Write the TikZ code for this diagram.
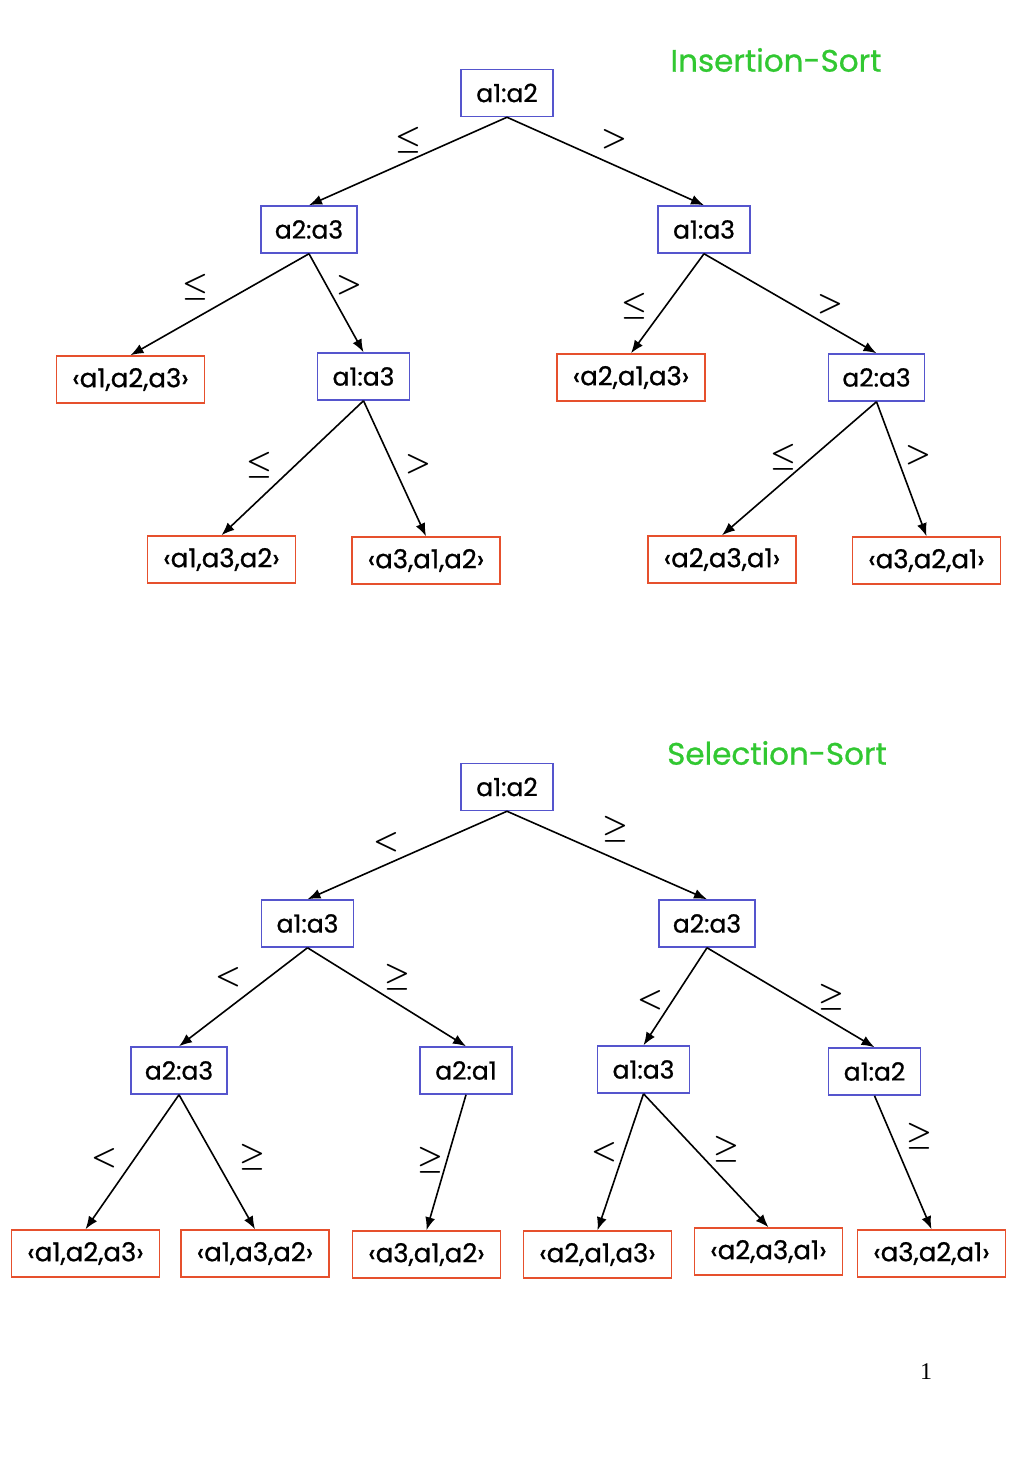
\RequirePackage{fix-cm}
\documentclass[tikz,border=0pt]{standalone}
\usepackage{fontspec}
\setmainfont{Poppins}[FakeBold=0.8]
\newfontfamily\serifnum{Liberation Serif}
\usetikzlibrary{arrows.meta}
\definecolor{boxblue}{RGB}{85,85,205}
\definecolor{boxred}{RGB}{230,80,45}
\definecolor{titlegreen}{RGB}{50,200,50}
\tikzset{
  inner/.style={draw=boxblue,line width=1.5pt,minimum height=47pt,inner xsep=6pt,font=\fontsize{25}{28}\selectfont},
  leaf/.style={draw=boxred,line width=1.5pt,minimum height=47pt,minimum width=148pt,inner xsep=4pt,font=\fontsize{26}{28}\selectfont},
  edge/.style={line width=1.6pt,-{Latex[length=13pt,width=10pt]}},
  rel/.style={font=\fontsize{29}{34}\selectfont\boldmath},
  ttl/.style={text=titlegreen,font=\fontsize{31}{34}\selectfont},
}
\begin{document}
\begin{tikzpicture}[x=1pt,y=-1pt]
\useasboundingbox (0,0) rectangle (1024,1479);
% ---------- Insertion sort ----------
\node[ttl] (t1) at (776,60) {Insertion-Sort};
\node[inner,minimum width=92pt] (i1) at (507,93) {a1:a2};
\node[inner,minimum width=96pt] (i2) at (309,229.5) {a2:a3};
\node[inner,minimum width=92pt] (i3) at (704,229.5) {a1:a3};
\node[leaf] (i4) at (130.5,379.5) {‹a1,a2,a3›};
\node[inner,minimum width=92pt] (i5) at (363.5,376.5) {a1:a3};
\node[leaf] (i6) at (631,377.5) {‹a2,a1,a3›};
\node[inner,minimum width=96pt] (i7) at (876.5,377.5) {a2:a3};
\node[leaf] (i8) at (221.5,559.5) {‹a1,a3,a2›};
\node[leaf] (i9) at (426,560.5) {‹a3,a1,a2›};
\node[leaf] (i10) at (722,559.5) {‹a2,a3,a1›};
\node[leaf] (i11) at (926.5,560.5) {‹a3,a2,a1›};
\draw[edge] (i1.south) -- (i2.north);
\draw[edge] (i1.south) -- (i3.north);
\draw[edge] (i2.south) -- (i4.north);
\draw[edge] (i2.south) -- (i5.north);
\draw[edge] (i3.south) -- (i6.north);
\draw[edge] (i3.south) -- (i7.north);
\draw[edge] (i5.south) -- (i8.north);
\draw[edge] (i5.south) -- (i9.north);
\draw[edge] (i7.south) -- (i10.north);
\draw[edge] (i7.south) -- (i11.north);
\node[rel] (r1) at (408,140) {$\leq$};
\node[rel] (r2) at (614,139) {$>$};
\node[rel] (r3) at (195,287) {$\leq$};
\node[rel] (r4) at (349,285) {$>$};
\node[rel] (r5) at (634,306) {$\leq$};
\node[rel] (r6) at (830,304) {$>$};
\node[rel] (r7) at (259,465) {$\leq$};
\node[rel] (r8) at (418,464) {$>$};
\node[rel] (r9) at (783,457) {$\leq$};
\node[rel] (r10) at (918,455) {$>$};
% ---------- Selection sort ----------
\node[ttl] (t2) at (777,753) {Selection-Sort};
\node[inner,minimum width=92pt] (s1) at (507,787) {a1:a2};
\node[inner,minimum width=92pt] (s2) at (307.5,923.5) {a1:a3};
\node[inner,minimum width=96pt] (s3) at (707,923.5) {a2:a3};
\node[inner,minimum width=96pt] (s4) at (179,1070.5) {a2:a3};
\node[inner,minimum width=92pt] (s5) at (466,1070.5) {a2:a1};
\node[inner,minimum width=92pt] (s6) at (643.5,1069.5) {a1:a3};
\node[inner,minimum width=92pt] (s7) at (874.5,1071.5) {a1:a2};
\node[leaf] (s8) at (85.5,1253.5) {‹a1,a2,a3›};
\node[leaf] (s9) at (255,1253.5) {‹a1,a3,a2›};
\node[leaf] (s10) at (426.5,1254.5) {‹a3,a1,a2›};
\node[leaf] (s11) at (597.5,1254.5) {‹a2,a1,a3›};
\node[leaf] (s12) at (768.5,1251.5) {‹a2,a3,a1›};
\node[leaf] (s13) at (931.5,1253.5) {‹a3,a2,a1›};
\draw[edge] (s1.south) -- (s2.north);
\draw[edge] (s1.south) -- (s3.north);
\draw[edge] (s2.south) -- (s4.north);
\draw[edge] (s2.south) -- (s5.north);
\draw[edge] (s3.south) -- (s6.north);
\draw[edge] (s3.south) -- (s7.north);
\draw[edge] (s4.south) -- (s8.north);
\draw[edge] (s4.south) -- (s9.north);
\draw[edge] (s5.south) -- (s10.north);
\draw[edge] (s6.south) -- (s11.north);
\draw[edge] (s6.south) -- (s12.north);
\draw[edge] (s7.south) -- (s13.north);
\node[rel] (q1) at (386,842) {$<$};
\node[rel] (q2) at (615,829) {$\geq$};
\node[rel] (q3) at (228,977) {$<$};
\node[rel] (q4) at (397,977) {$\geq$};
\node[rel] (q5) at (650,1000) {$<$};
\node[rel] (q6) at (831,997) {$\geq$};
\node[rel] (q7) at (104,1158) {$<$};
\node[rel] (q8) at (252,1157) {$\geq$};
\node[rel] (q9) at (430,1160) {$\geq$};
\node[rel] (q10) at (604,1152) {$<$};
\node[rel] (q11) at (726,1149) {$\geq$};
\node[rel] (q12) at (919,1136) {$\geq$};
\node[font=\serifnum\fontsize{24}{28}\selectfont] (pg) at (926,1372) {1};
\end{tikzpicture}
\end{document}
